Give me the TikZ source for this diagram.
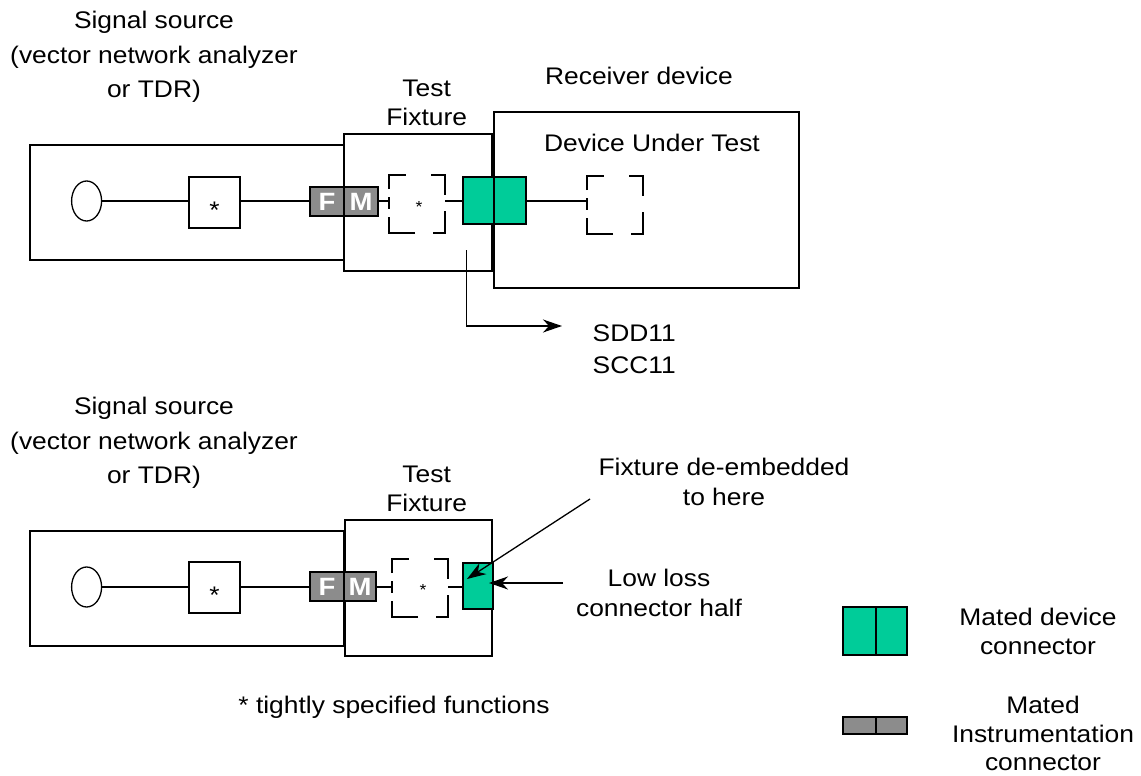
\documentclass[tikz,border=0pt]{standalone}
\usepackage{fontspec}
\setmainfont{Liberation Sans}[FakeStretch=1.1]
\usetikzlibrary{shapes.geometric,arrows.meta,calc}
\definecolor{matedgreen}{RGB}{0,204,153}
\definecolor{instgray}{RGB}{140,140,140}

\begin{document}
\begin{tikzpicture}[x=1pt,y=-1pt,line width=1.3pt,
  box/.style={draw,rectangle,inner sep=0,outer sep=0,anchor=north west},
  spot/.style={rectangle,inner sep=0,outer sep=0,anchor=north west},
  src/.style={draw,ellipse,inner sep=0,minimum width=30,minimum height=40},
  instr/.style={box,fill=instgray,text=white,font=\fontsize{25}{25}\selectfont\bfseries,
    minimum width=34,minimum height=29},
  devcon/.style={box,fill=matedgreen,minimum width=31,minimum height=47},
  star/.style={inner sep=0,anchor=base,font=\fontsize{24}{24}\selectfont},
  smallstar/.style={inner sep=0,anchor=base,font=\fontsize{16}{16}\selectfont},
  lbl/.style={inner sep=0,align=center,anchor=north,font=\fontsize{24}{30}\selectfont},
  tip/.style={-{Stealth[length=19pt,width=13pt,inset=6pt]}},
  dbox/.pic={
    \draw[line width=2.6pt]
      (0,14)--(0,0)--(17,0)
      (42,0)--(56,0)--(56,20)
      (56,36)--(56,58)--(44,58)
      (26,58)--(0,58)--(0,42)
      (0,22)--(0,34);
  }]
\useasboundingbox (0,0) rectangle (1141,776);

% ---------------- upper set-up: fixture mated to the receiver ----------------
\node[box,minimum width=314,minimum height=115] (srcA) at (30,145) {};
\node[box,minimum width=148,minimum height=137] (fixA) at (344,134) {};
\node[box,minimum width=305,minimum height=176] (dutA) at (494,112) {};

\node[src] (genA) at (86.6,201) {};
\node[box,minimum width=51,minimum height=51] (funA) at (189,177) {};
\node[star] at ($(funA.center)+(0,16)$) {*};

\node[instr] (fA) at (310,187) {F};
\node[instr] (mA) at (344,187) {M};

\node[spot,minimum width=56,minimum height=58] (fxfunA) at (389,175) {};
\pic at (fxfunA.north west) {dbox};
\node[smallstar] at ($(fxfunA.center)+(2,8)$) {*};

\node[devcon] (gA1) at (463,177) {};
\node[devcon,minimum width=32] (gA2) at (494,177) {};

\node[spot,minimum width=56,minimum height=58] (rxA) at (587,176) {};
\pic at (rxA.north west) {dbox};

\coordinate (lineA) at (0,201);
\draw (genA.east) -- (funA.west |- lineA);
\draw (funA.east |- lineA) -- (fA.west |- lineA);
\draw (mA.east |- lineA) -- (fxfunA.west |- lineA);
\draw (fxfunA.east |- lineA) -- (gA1.west |- lineA);
\draw (gA2.east |- lineA) -- (rxA.west |- lineA);

\node[lbl,font=\fontsize{24}{34.5}\selectfont] (srcAtxt) at (154,10.8)
  {Signal source\\(vector network analyzer\\or TDR)};
\node[lbl,font=\fontsize{24}{29.3}\selectfont] (fixAtxt) at (426.7,79.5) {Test\\Fixture};
\node[lbl] (rcvtxt) at (639,66.1) {Receiver device};
\node[lbl] (duttxt) at (652,133.5) {Device Under Test};
\node[lbl,align=left,anchor=north west,font=\fontsize{24}{31.3}\selectfont] (sparam)
  at (592,324.5) {SDD11\\SCC11};

\coordinate (tapA) at (466.5,250);
\coordinate (toS) at (562,326);
\draw[tip] (tapA) |- (toS);

% ---------------- lower set-up: fixture alone, de-embedded ----------------
\node[box,minimum width=314,minimum height=115] (srcB) at (30,531) {};
\node[box,minimum width=147,minimum height=136] (fixB) at (345,520) {};

\node[src] (genB) at (86.6,587) {};
\node[box,minimum width=51,minimum height=51] (funB) at (189,562) {};
\node[star] at ($(funB.center)+(0,16)$) {*};

\node[instr] (fB) at (310,572) {F};
\node[instr,minimum width=32] (mB) at (344,572) {M};

\node[spot,minimum width=56,minimum height=58] (fxfunB) at (392,559) {};
\pic at (fxfunB.north west) {dbox};
\node[smallstar] at ($(fxfunB.center)+(3,7)$) {*};

\node[devcon,minimum width=30,minimum height=46] (gB) at (463,563) {};

\coordinate (lineB) at (0,587);
\draw (genB.east) -- (funB.west |- lineB);
\draw (funB.east |- lineB) -- (fB.west |- lineB);
\draw (mB.east |- lineB) -- (fxfunB.west |- lineB);
\draw (fxfunB.east |- lineB) -- (gB.west |- lineB);

\node[lbl,font=\fontsize{24}{34.5}\selectfont] (srcBtxt) at (154,396.8)
  {Signal source\\(vector network analyzer\\or TDR)};
\node[lbl,font=\fontsize{24}{29.3}\selectfont] (fixBtxt) at (426.7,465.5) {Test\\Fixture};
\node[lbl,font=\fontsize{24}{30.7}\selectfont] (deemb) at (724,457.1)
  {Fixture de-embedded\\to here};
\node[lbl,font=\fontsize{24}{30.3}\selectfont] (lowloss) at (659,568.5)
  {Low loss\\connector half};
\node[lbl] (note) at (394,695.8) {* tightly specified functions};

\coordinate (deembFrom) at (590,499);
\coordinate (deembTo) at (467,579);
\draw[tip] (deembFrom) -- (deembTo);
\coordinate (halfFrom) at (563,583);
\coordinate (halfTo) at (489,583);
\draw[tip] (halfFrom) -- (halfTo);

% ---------------- legend ----------------
\node[devcon,minimum width=33,minimum height=48] (legG1) at (843,607) {};
\node[devcon,minimum width=31,minimum height=48] (legG2) at (876,607) {};
\node[instr,minimum width=33,minimum height=17] (legI1) at (843,717) {};
\node[instr,minimum width=31,minimum height=17] (legI2) at (876,717) {};
\node[lbl,font=\fontsize{24}{29}\selectfont] (legGtxt) at (1038,607.1)
  {Mated device\\connector};
\node[lbl,font=\fontsize{24}{28.7}\selectfont] (legItxt) at (1043,695.5)
  {Mated\\Instrumentation\\connector};
\end{tikzpicture}
\end{document}
